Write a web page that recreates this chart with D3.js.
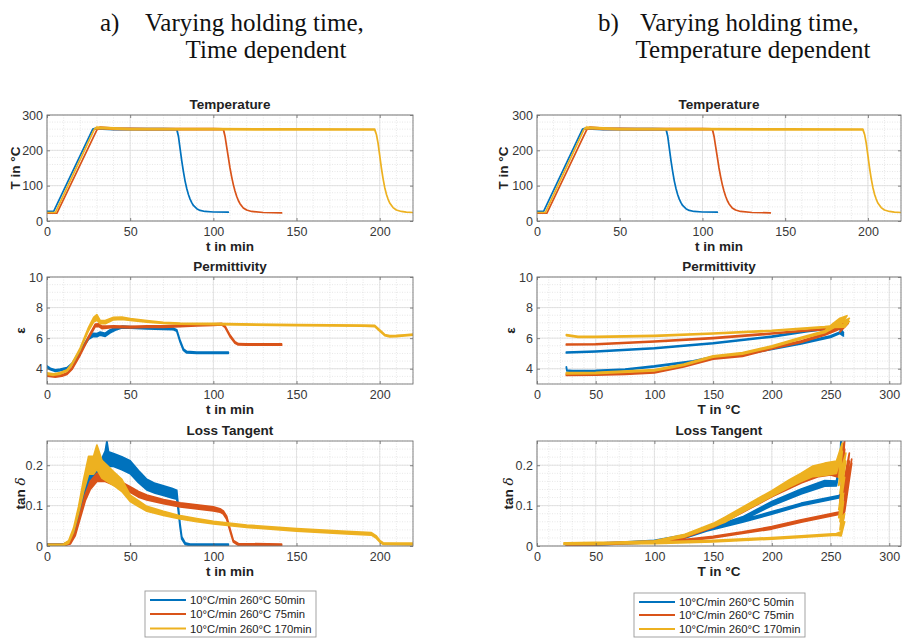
<!DOCTYPE html>
<html>
<head>
<meta charset="utf-8">
<script src="https://cdn.jsdelivr.net/npm/d3@7"></script>
<style>
  body { margin: 0; background: #fff; }
  svg { display: block; }
  text { font-family: "Liberation Sans", Arial, sans-serif; }
</style>
</head>
<body>
<svg id="fig" width="904" height="640"></svg>
<script>
// series labels
const seriesNames = ["10°C/min 260°C 50min", "10°C/min 260°C 75min", "10°C/min 260°C 170min"];

// tick labels
const timeTicks = [0, 50, 100, 150, 200];
const tempAxisTicks = [0, 50, 100, 150, 200, 250, 300];
const tempTicks = [0, 100, 200, 300];
const permTicks = [4, 6, 8, 10];
const lossTicks = [0, 0.1, 0.2];

// every point is [x, value, noise half-width]

// temperature vs time
const tempTimeBlue = [[0,27,0],[4,27,0],[27.5,260,0],[30,262,1.5],[40,260,1.5],[50,260,1.5],[60,260,1.5],[70,260,1.5],[78,260,1],[79,240,0],[80,205,0],[81,170,0],[82,140,0],[83,113,0],[84,92,0],[85,75,0],[86,62,0],[87,52,0],[88,44,0],[90,35,0],[92,30,0],[95,27,0],[100,25.5,0],[109,25,0]];
const tempTimeRed = [[0,22,0],[6,22,0],[30,258,0],[32,264,2],[40,261,2],[60,260,1.5],[80,260,1.5],[100,260,1.5],[106,260,1],[107,240,0],[108,210,0],[109,180,0],[110,150,0],[111,125,0],[112,103,0],[113,85,0],[114,70,0],[115,58,0],[116,49,0],[118,37,0],[120,31,0],[123,27,0],[130,24,0],[141,23,0]];
const tempTimeYellow = [[0,24,0],[5,24,0],[28.5,260,0],[30,264,2],[50,260,1.5],[100,260,1.5],[150,259,1.5],[197,259,1],[198,245,0],[199,220,0],[200,185,0],[201,150,0],[202,120,0],[203,95,0],[204,76,0],[205,62,0],[206,51,0],[208,38,0],[210,31,0],[213,27,0],[216,25,0],[220,24,0]];

// permittivity vs time
const permTimeBlue = [[0,4.13,.05],[2,3.98,.05],[5,3.88,.05],[8,3.92,.05],[12,4.02,.05],[15,4.3,.05],[20,5.15,.05],[25,6.0,.08],[28,6.22,.1],[30,6.2,.1],[32,6.3,.1],[35,6.22,.1],[38,6.45,.1],[41,6.6,.08],[45,6.72,.06],[50,6.7,.05],[60,6.66,.05],[70,6.62,.05],[76,6.6,.05],[78,6.5,.05],[80,5.8,.05],[82,5.25,.05],[84,5.08,.05],[90,5.04,.04],[100,5.04,.04],[109,5.05,.04]];
const permTimeRed = [[0,3.57,.05],[5,3.5,.05],[9,3.56,.05],[12,3.68,.05],[15,4.0,.05],[20,4.95,.05],[25,6.05,.06],[29,6.84,.08],[31,6.85,.08],[33,6.7,.08],[36,6.72,.06],[40,6.75,.05],[50,6.72,.05],[60,6.75,.05],[70,6.76,.05],[80,6.8,.05],[90,6.85,.05],[100,6.88,.05],[105,6.92,.05],[107,6.75,.05],[110,6.15,.05],[113,5.72,.05],[115,5.6,.04],[120,5.58,.04],[130,5.58,.04],[141,5.58,.04]];
const permTimeYellow = [[0,3.68,.05],[4,3.62,.05],[8,3.7,.05],[12,3.88,.05],[15,4.3,.05],[20,5.3,.06],[25,6.6,.1],[28,7.2,.15],[30,7.35,.18],[32,7.05,.1],[35,7.05,.1],[40,7.28,.08],[45,7.3,.08],[50,7.22,.06],[60,7.1,.05],[70,7.0,.04],[80,6.95,.04],[100,6.92,.04],[150,6.85,.04],[190,6.82,.04],[197,6.8,.04],[200,6.5,.04],[203,6.2,.04],[206,6.12,.04],[210,6.14,.04],[215,6.18,.04],[220,6.23,.04]];

// loss tangent vs time
const lossTimeBlue = [[0,.003,.002],[10,.003,.002],[14,.01,.003],[17,.04,.004],[20,.09,.006],[23,.14,.01],[26,.17,.012],[30,.19,.015],[33,.2,.017],[35,.215,.02],[36,.235,.025],[37,.215,.018],[40,.213,.016],[45,.205,.016],[50,.195,.016],[55,.172,.015],[60,.152,.013],[65,.143,.012],[70,.137,.012],[75,.131,.012],[78,.127,.011],[79,.09,.006],[80,.05,.004],[81,.02,.003],[83,.006,.002],[86,.003,.002],[109,.003,.002]];
const lossTimeRed = [[0,.002,.002],[10,.003,.002],[14,.008,.003],[17,.03,.004],[20,.075,.006],[23,.12,.008],[26,.15,.01],[30,.17,.01],[35,.17,.01],[40,.16,.009],[45,.15,.008],[50,.14,.007],[55,.128,.007],[60,.12,.006],[70,.11,.005],[80,.102,.005],[90,.097,.005],[100,.092,.005],[104,.088,.004],[106,.083,.004],[108,.07,.004],[110,.04,.003],[112,.012,.002],[115,.004,.002],[141,.003,.002]];
const lossTimeYellow = [[0,.002,.002],[10,.003,.002],[13,.01,.003],[16,.04,.005],[19,.09,.008],[22,.15,.015],[25,.2,.022],[28,.2,.022],[30,.22,.03],[33,.19,.022],[36,.18,.02],[40,.167,.017],[45,.15,.015],[50,.118,.008],[55,.105,.007],[60,.092,.006],[70,.081,.005],[80,.071,.004],[90,.064,.004],[100,.058,.003],[120,.049,.003],[150,.04,.003],[180,.033,.003],[195,.03,.003],[198,.022,.003],[200,.012,.002],[202,.006,.002],[220,.005,.002]];

// permittivity vs temperature (heating, holding, cooling)
const permTempBlue = [[25,4.1,.03],[25.5,3.88,.03],[30,3.85,.03],[50,3.86,.03],[75,3.95,.03],[100,4.15,.03],[133,4.48,.04],[150,4.76,.04],[175,4.95,.04],[200,5.3,.04],[225,5.67,.04],[250,6.1,.05],[258,6.35,.05],[261,6.2,.06],[259,6.55,.05],[261,6.3,.05],[258,6.6,.05],[255,6.68,.03],[230,6.45,.03],[200,6.1,.03],[150,5.67,.03],[100,5.34,.03],[50,5.13,.03],[25,5.06,.03]];
const permTempRed = [[25,3.6,.04],[50,3.62,.04],[75,3.66,.04],[100,3.76,.04],[125,4.15,.04],[150,4.68,.05],[175,4.85,.05],[200,5.34,.05],[225,5.77,.05],[245,6.25,.05],[255,6.6,.1],[262,6.9,.1],[258,6.5,.1],[265,7.05,.08],[260,6.7,.08],[257,6.65,.03],[230,6.5,.03],[200,6.3,.03],[150,6.0,.03],[100,5.78,.03],[50,5.6,.03],[25,5.58,.03]];
const permTempYellow = [[25,3.7,.04],[50,3.72,.04],[100,3.9,.04],[125,4.26,.04],[150,4.8,.05],[175,5.0,.05],[200,5.45,.05],[225,6.0,.05],[245,6.42,.06],[252,6.8,.15],[258,7.1,.2],[264,7.35,.12],[260,6.9,.12],[266,7.2,.1],[262,6.8,.08],[245,6.72,.03],[200,6.48,.03],[150,6.3,.03],[100,6.15,.03],[50,6.08,.03],[35,6.08,.03],[25,6.2,.03]];

// loss tangent vs temperature (heating, holding, cooling)
const lossTempBlue = [[25,.004,.002],[50,.005,.002],[100,.01,.002],[125,.022,.003],[150,.045,.003],[175,.068,.004],[200,.105,.005],[225,.135,.006],[245,.155,.007],[255,.155,.006],[258,.2,.005],[259,.27,.005],[260,.14,.005],[259,.125,.003],[257,.122,.003],[225,.103,.003],[200,.082,.003],[175,.062,.003],[150,.043,.002],[125,.025,.002],[100,.012,.002],[50,.004,.002],[25,.003,.002]];
const lossTempRed = [[25,.004,.002],[50,.005,.002],[100,.01,.002],[125,.023,.003],[150,.05,.004],[175,.088,.005],[200,.128,.006],[225,.165,.009],[240,.185,.013],[250,.19,.014],[256,.185,.014],[262,.25,.01],[258,.1,.01],[266,.22,.01],[260,.06,.01],[268,.21,.005],[262,.09,.005],[258,.083,.003],[257,.081,.003],[225,.062,.003],[200,.045,.003],[175,.033,.002],[150,.022,.002],[125,.014,.002],[100,.01,.002],[50,.005,.002],[25,.004,.002]];
const lossTempYellow = [[23,.006,.002],[50,.006,.002],[75,.008,.002],[100,.011,.002],[125,.025,.003],[150,.052,.004],[160,.065,.006],[175,.09,.006],[200,.13,.007],[215,.155,.009],[225,.17,.01],[235,.185,.013],[245,.19,.015],[255,.195,.015],[260,.245,.01],[257,.16,.01],[263,.22,.01],[258,.12,.01],[262,.18,.01],[257,.08,.01],[261,.12,.01],[258,.05,.01],[262,.07,.01],[259,.03,.005],[255,.029,.002],[225,.023,.002],[200,.019,.002],[150,.012,.002],[100,.008,.002],[50,.007,.002],[25,.006,.002]];

// ---- layout ----
const colors = ["#0072BD", "#D95319", "#EDB120"];
const svg = d3.select("#fig");

const leftCol = {x0: 47, x1: 413};
const rightCol = {x0: 537, x1: 901};
const rows = [{top: 115, bottom: 221}, {top: 277, bottom: 384}, {top: 441, bottom: 546}];

const panels = [
  {col: leftCol, row: rows[0], title: "Temperature", xDomain: [0, 220], yDomain: [0, 300], xTicks: timeTicks, yTicks: tempTicks, xMinor: 10, yMinor: 20, xLabel: "t in min", yLabel: "T in °C", labelX: 15, data: [tempTimeBlue, tempTimeRed, tempTimeYellow]},
  {col: leftCol, row: rows[1], title: "Permittivity", xDomain: [0, 220], yDomain: [3, 10], xTicks: timeTicks, yTicks: permTicks, xMinor: 10, yMinor: 0.5, xLabel: "t in min", yLabel: "ε", labelX: 20, data: [permTimeBlue, permTimeRed, permTimeYellow]},
  {col: leftCol, row: rows[2], title: "Loss Tangent", xDomain: [0, 220], yDomain: [0, 0.26], xTicks: timeTicks, yTicks: lossTicks, xMinor: 10, yMinor: 0.02, xLabel: "t in min", yLabel: "tan", labelX: 20, data: [lossTimeBlue, lossTimeRed, lossTimeYellow]},
  {col: rightCol, row: rows[0], title: "Temperature", xDomain: [0, 220], yDomain: [0, 300], xTicks: timeTicks, yTicks: tempTicks, xMinor: 10, yMinor: 20, xLabel: "t in min", yLabel: "T in °C", labelX: 503, data: [tempTimeBlue, tempTimeRed, tempTimeYellow]},
  {col: rightCol, row: rows[1], title: "Permittivity", xDomain: [0, 310], yDomain: [3, 10], xTicks: tempAxisTicks, yTicks: permTicks, xMinor: 10, yMinor: 0.5, xLabel: "T in °C", yLabel: "ε", labelX: 510, data: [permTempBlue, permTempRed, permTempYellow]},
  {col: rightCol, row: rows[2], title: "Loss Tangent", xDomain: [0, 310], yDomain: [0, 0.26], xTicks: tempAxisTicks, yTicks: lossTicks, xMinor: 10, yMinor: 0.02, xLabel: "T in °C", yLabel: "tan", labelX: 508, data: [lossTempBlue, lossTempRed, lossTempYellow]}
];

const defs = svg.append("defs");

panels.forEach(function(p, i) {
  const g = svg.append("g");
  const x = d3.scaleLinear().domain(p.xDomain).range([p.col.x0, p.col.x1]);
  const y = d3.scaleLinear().domain(p.yDomain).range([p.row.bottom, p.row.top]);

  defs.append("clipPath").attr("id", "clip" + i)
    .append("rect")
    .attr("x", p.col.x0).attr("y", p.row.top)
    .attr("width", p.col.x1 - p.col.x0).attr("height", p.row.bottom - p.row.top);

  // minor grid
  const xm = d3.range(p.xDomain[0], p.xDomain[1] + 1e-9, p.xMinor);
  const ym = d3.range(p.yDomain[0], p.yDomain[1] + 1e-9, p.yMinor);
  g.selectAll(".xm").data(xm).enter().append("line")
    .attr("x1", d => x(d)).attr("x2", d => x(d))
    .attr("y1", p.row.top).attr("y2", p.row.bottom)
    .attr("stroke", "#d6d6d6").attr("stroke-width", 0.6).attr("stroke-dasharray", "1,1.5");
  g.selectAll(".ym").data(ym).enter().append("line")
    .attr("x1", p.col.x0).attr("x2", p.col.x1)
    .attr("y1", d => y(d)).attr("y2", d => y(d))
    .attr("stroke", "#d6d6d6").attr("stroke-width", 0.6).attr("stroke-dasharray", "1,1.5");

  // major grid
  g.selectAll(".xg").data(p.xTicks).enter().append("line")
    .attr("x1", d => x(d)).attr("x2", d => x(d))
    .attr("y1", p.row.top).attr("y2", p.row.bottom)
    .attr("stroke", "#dcdcdc").attr("stroke-width", 0.8);
  g.selectAll(".yg").data(p.yTicks).enter().append("line")
    .attr("x1", p.col.x0).attr("x2", p.col.x1)
    .attr("y1", d => y(d)).attr("y2", d => y(d))
    .attr("stroke", "#dcdcdc").attr("stroke-width", 0.8);

  // series
  const area = d3.area()
    .x(d => x(d[0]))
    .y0(d => y(d[1] - d[2]))
    .y1(d => y(d[1] + d[2]));
  p.data.forEach(function(s, k) {
    g.append("path")
      .attr("d", area(s))
      .attr("fill", colors[k])
      .attr("stroke", colors[k])
      .attr("stroke-width", 1.7)
      .attr("stroke-linejoin", "round")
      .attr("clip-path", "url(#clip" + i + ")");
  });

  // axes (inward ticks)
  const fmt = d => String(d);
  g.append("g").attr("transform", "translate(0," + p.row.bottom + ")")
    .call(d3.axisBottom(x).tickValues(p.xTicks).tickFormat(fmt).tickSize(-3).tickSizeOuter(0).tickPadding(6.5));
  g.append("g").attr("transform", "translate(" + p.col.x0 + ",0)")
    .call(d3.axisLeft(y).tickValues(p.yTicks).tickFormat(fmt).tickSize(-3).tickSizeOuter(0).tickPadding(4));
  g.append("g").attr("transform", "translate(0," + p.row.top + ")")
    .call(d3.axisTop(x).tickValues(p.xTicks).tickFormat("").tickSize(-3).tickSizeOuter(0));
  g.append("g").attr("transform", "translate(" + p.col.x1 + ",0)")
    .call(d3.axisRight(y).tickValues(p.yTicks).tickFormat("").tickSize(-3).tickSizeOuter(0));
  g.selectAll(".domain").remove();
  g.selectAll(".tick line").attr("stroke", "#555").attr("stroke-width", 0.7);
  g.selectAll(".tick text").attr("font-size", "12.5px").attr("fill", "#383838")
    .attr("font-family", "'Liberation Sans', Arial, sans-serif");

  // box
  g.append("rect")
    .attr("x", p.col.x0).attr("y", p.row.top)
    .attr("width", p.col.x1 - p.col.x0).attr("height", p.row.bottom - p.row.top)
    .attr("fill", "none").attr("stroke", "#777").attr("stroke-width", 0.9);

  const cx = (p.col.x0 + p.col.x1) / 2;
  // title
  g.append("text").attr("x", cx).attr("y", p.row.top - 6)
    .attr("text-anchor", "middle").attr("font-size", "13.5px").attr("font-weight", "bold")
    .attr("fill", "#222").text(p.title);
  // x label
  g.append("text").attr("x", cx).attr("y", p.row.bottom + 30)
    .attr("text-anchor", "middle").attr("font-size", "13.5px").attr("font-weight", "bold")
    .attr("fill", "#222").text(p.xLabel);
  // y label
  const cy = (p.row.top + p.row.bottom) / 2;
  const yl = g.append("text")
    .attr("transform", "translate(" + (p.labelX + 5) + "," + cy + ") rotate(-90)")
    .attr("text-anchor", "middle").attr("font-size", "13.5px").attr("font-weight", "bold")
    .attr("fill", "#222");
  if (p.yLabel === "tan") {
    yl.append("tspan").text("tan ");
    yl.append("tspan").attr("font-style", "italic").attr("font-weight", "normal")
      .attr("font-family", "'DejaVu Serif', serif").text("δ");
  } else {
    yl.text(p.yLabel);
  }
});

// legends
function drawLegend(x, y, w, h, lineX0, lineX1, textX, rowYs) {
  const g = svg.append("g");
  g.append("rect").attr("x", x).attr("y", y).attr("width", w).attr("height", h)
    .attr("fill", "#fff").attr("stroke", "#999").attr("stroke-width", 0.9);
  seriesNames.forEach(function(name, k) {
    g.append("line").attr("x1", lineX0).attr("x2", lineX1)
      .attr("y1", rowYs[k]).attr("y2", rowYs[k])
      .attr("stroke", colors[k]).attr("stroke-width", 2);
    g.append("text").attr("x", textX).attr("y", rowYs[k] + 4)
      .attr("font-size", "11.3px").attr("fill", "#222").text(name);
  });
}
drawLegend(145, 591, 171, 46, 150, 186, 190, [600, 614, 628.5]);
drawLegend(634, 593, 171, 44, 639, 675, 679, [602, 615, 629]);

// panel headings
const head = svg.append("g");
function serif(x, y, str, anchor) {
  head.append("text").attr("x", x).attr("y", y).attr("text-anchor", anchor)
    .attr("font-size", "25px").attr("fill", "#111")
    .style("font-family", "'Liberation Serif', 'Times New Roman', serif").text(str);
}
serif(100, 31, "a)", "start");
serif(145, 31, "Varying holding time,", "start");
serif(266, 58, "Time dependent", "middle");
serif(598, 31, "b)", "start");
serif(640, 31, "Varying holding time,", "start");
serif(753, 58, "Temperature dependent", "middle");
</script>
</body>
</html>
